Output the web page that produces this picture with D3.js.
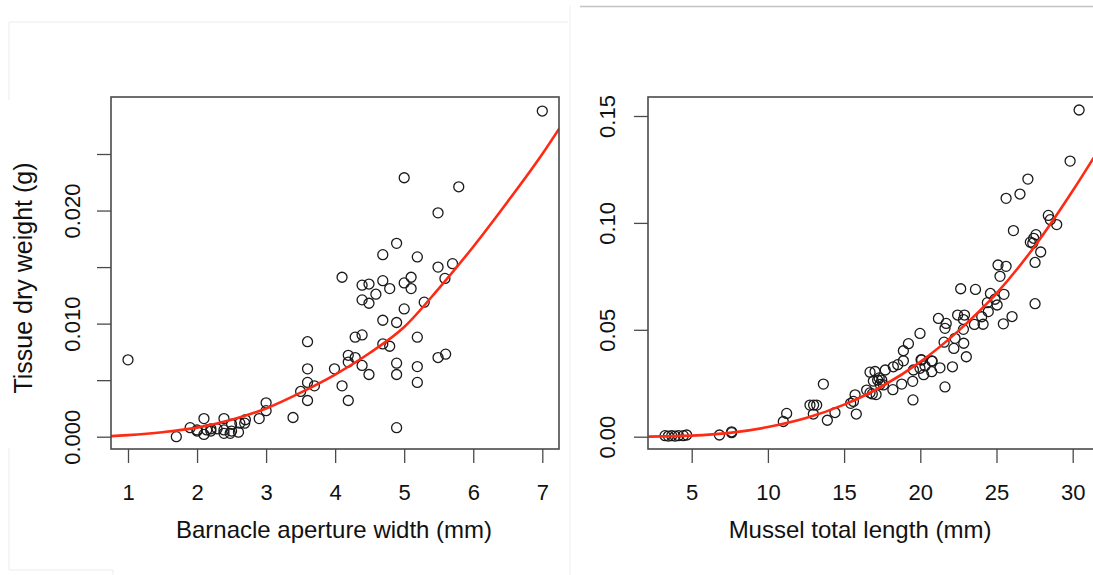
<!DOCTYPE html>
<html><head><meta charset="utf-8">
<script src="https://cdn.jsdelivr.net/npm/d3@7"></script>
<style>body{margin:0;background:#fff}svg{display:block}text{font-family:"Liberation Sans",Arial,Helvetica,sans-serif;fill:#111}</style>
</head><body><svg id="c" width="1093" height="575"></svg>
<script>
// ---- data ----
const barnacleXTicks = [1,2,3,4,5,6,7];
const barnacleYTicks = [0,0.005,0.010,0.015,0.020,0.025];
const barnacleYLabels = ["0.000","","0.010","","0.020",""];
const barnacleWidth = [7.00,5.00,5.79,5.49,4.89,4.69,5.19,5.49,5.70,5.59,4.10,5.10,5.00,5.10,4.69,4.79,4.39,4.49,4.59,4.39,4.49,5.29,5.00,4.69,4.89,5.19,4.29,4.39,4.69,4.79,3.60,4.19,4.29,4.19,4.39,5.49,5.60,4.89,5.19,3.99,3.60,4.49,4.89,5.19,3.60,3.70,4.10,3.50,3.60,4.19,3.39,3.00,3.00,2.90,2.70,2.69,1.00,4.89,1.70,1.90,2.10,2.00,2.10,2.20,2.20,2.29,2.39,2.39,2.39,2.50,2.50,2.60,2.00,2.14,2.48,2.62];
const barnacleWeight = [0.0288,0.0229,0.0221,0.0198,0.0171,0.0161,0.0159,0.0150,0.0153,0.0140,0.0141,0.0141,0.0136,0.0131,0.0138,0.0131,0.0134,0.0135,0.0126,0.0121,0.0118,0.0119,0.0113,0.0103,0.0101,0.0088,0.0088,0.0090,0.0082,0.0080,0.0084,0.0072,0.0070,0.0066,0.0063,0.0070,0.0073,0.0065,0.0062,0.0060,0.0060,0.0055,0.0055,0.0048,0.0048,0.0045,0.0045,0.0040,0.0032,0.0032,0.0017,0.0030,0.0023,0.0016,0.0015,0.0012,0.0068,0.0008,0.0000,0.0008,0.0016,0.0005,0.0002,0.0007,0.0005,0.0007,0.0016,0.0006,0.0003,0.0011,0.0005,0.0004,0.0006,0.0006,0.0003,0.0012];
const barnacleFitX = [0.754,1,1.5,2,2.5,3,3.5,4,4.5,5,5.5,6,6.5,7,7.25];
const barnacleFitY = [0.00005,0.00014,0.0004,0.0008,0.0015,0.0025,0.0039,0.0055,0.0074,0.0097,0.0131,0.0168,0.0208,0.0250,0.0273];

const musselXTicks = [5,10,15,20,25,30];
const musselYTicks = [0,0.05,0.10,0.15];
const musselYLabels = ["0.00","0.05","0.10","0.15"];
const musselLength = [30.42,29.83,27.06,26.54,25.63,26.11,28.40,28.53,28.95,27.59,27.44,27.22,27.38,27.90,27.53,27.53,25.10,25.63,25.23,22.65,23.62,24.60,25.49,24.90,24.40,25.04,25.45,26.02,21.19,22.45,22.90,22.83,21.70,21.62,23.55,24.12,22.83,24.46,24.03,21.56,22.28,22.85,22.20,23.02,19.98,19.22,18.89,18.89,18.52,20.78,20.05,20.31,21.29,22.11,19.55,20.22,20.75,21.62,19.50,18.78,19.52,17.70,16.70,17.03,17.30,16.92,17.20,17.36,17.58,16.48,16.85,17.10,16.70,18.20,18.23,17.47,15.72,15.61,15.80,15.43,13.64,12.76,13.20,13.00,12.98,14.40,13.90,11.23,11.01,7.62,7.62,6.82,3.25,3.47,3.69,3.91,4.13,4.45,4.67,20.09,19.98,20.75];
const musselWeight = [0.1528,0.1289,0.1205,0.1135,0.1115,0.0964,0.1035,0.1015,0.0992,0.0945,0.0928,0.0910,0.0905,0.0864,0.0815,0.0622,0.0803,0.0797,0.0750,0.0692,0.0689,0.0670,0.0666,0.0643,0.0627,0.0616,0.0528,0.0562,0.0553,0.0569,0.0569,0.0548,0.0530,0.0507,0.0525,0.0526,0.0502,0.0585,0.0561,0.0442,0.0460,0.0437,0.0413,0.0374,0.0483,0.0435,0.0402,0.0355,0.0337,0.0353,0.0360,0.0331,0.0322,0.0327,0.0312,0.0290,0.0304,0.0233,0.0259,0.0246,0.0172,0.0312,0.0302,0.0305,0.0275,0.0260,0.0265,0.0245,0.0242,0.0218,0.0200,0.0197,0.0205,0.0220,0.0327,0.0265,0.0196,0.0165,0.0106,0.0156,0.0246,0.0148,0.0148,0.0148,0.0106,0.0113,0.0077,0.0109,0.0071,0.0023,0.0019,0.0008,0.0005,0.0003,0.0005,0.0003,0.0005,0.0005,0.0008,0.0359,0.0320,0.0355];
const musselFitX = [2.15,5,7.5,10,12.5,15,17.5,20,22.5,25,27.5,30,31.6];
const musselFitY = [0.00004,0.0005,0.0018,0.0045,0.0087,0.0150,0.0236,0.0350,0.0495,0.0670,0.0890,0.1150,0.1330];

const xTitleLeft = "Barnacle aperture width (mm)";
const xTitleRight = "Mussel total length (mm)";
const yTitle = "Tissue dry weight (g)";

// ---- drawing ----
const svg = d3.select("#c");
// faint screenshot frame lines
const frame = svg.append("g").attr("fill","none");
frame.append("path").attr("d","M9,100V22H568").attr("stroke","#ececec");
frame.append("path").attr("d","M9,448V570H113V575").attr("stroke","#ececec");
frame.append("path").attr("d","M570,6V575").attr("stroke","#efefef");
frame.append("path").attr("d","M580,6.5H1093").attr("stroke","#c4c4c4").attr("stroke-width",1.5);

function panel(cfg){
  const g = svg.append("g");
  const x = d3.scaleLinear().domain(cfg.xDom).range(cfg.xRange);
  const y = d3.scaleLinear().domain(cfg.yDom).range(cfg.yRange);
  const id = "clip"+cfg.id;
  svg.append("clipPath").attr("id",id).append("rect")
    .attr("x",cfg.box[0]).attr("y",cfg.box[1]).attr("width",cfg.box[2]-cfg.box[0]).attr("height",cfg.box[3]-cfg.box[1]);
  // points
  g.append("g").selectAll("circle").data(cfg.xs.map((d,i)=>[d,cfg.ys[i]])).join("circle")
    .attr("cx",d=>x(d[0])).attr("cy",d=>y(d[1])).attr("r",5)
    .attr("fill","none").attr("stroke","#1a1a1a").attr("stroke-width",1.3);
  // fitted curve
  g.append("path").attr("clip-path",`url(#${id})`)
    .datum(cfg.fx.map((d,i)=>[d,cfg.fy[i]]))
    .attr("d",d3.line().x(d=>x(d[0])).y(d=>y(d[1])).curve(d3.curveMonotoneX))
    .attr("fill","none").attr("stroke","#ff2a14").attr("stroke-width",2.6);
  // box
  g.append("rect").attr("x",cfg.box[0]).attr("y",cfg.box[1])
    .attr("width",cfg.box[2]-cfg.box[0]).attr("height",cfg.box[3]-cfg.box[1])
    .attr("fill","none").attr("stroke","#4a4a4a").attr("stroke-width",1.6);
  // x axis
  const xa = d3.axisBottom(x).tickValues(cfg.xTicks).tickSize(14).tickPadding(12).tickFormat(d3.format("d"));
  const gx = g.append("g").attr("transform",`translate(0,${cfg.box[3]})`).call(xa);
  gx.select(".domain").remove();
  gx.selectAll(".tick line").attr("stroke","#4a4a4a").attr("stroke-width",1.3);
  gx.selectAll(".tick text").attr("font-size",22).attr("fill","#111").attr("dy",null).attr("y",null)
    .attr("transform",null).attr("dominant-baseline",null);
  gx.selectAll(".tick text").attr("y",51);
  // y axis
  const ya = d3.axisLeft(y).tickValues(cfg.yTicks).tickSize(14).tickFormat((d,i)=>cfg.yLabels[i]);
  const gy = g.append("g").attr("transform",`translate(${cfg.box[0]},0)`).call(ya);
  gy.select(".domain").remove();
  gy.selectAll(".tick line").attr("stroke","#4a4a4a").attr("stroke-width",1.3);
  gy.selectAll(".tick text").attr("font-size",22).attr("fill","#111")
    .attr("x",null).attr("dy",null).attr("text-anchor","middle")
    .attr("transform",`translate(${cfg.yLabX - cfg.box[0]},0) rotate(-90)`);
  // x title
  g.append("text").attr("x",cfg.xTitleX).attr("y",538).attr("text-anchor","middle")
    .attr("font-size",24).text(cfg.xTitle);
}

panel({id:"L", xDom:[1,7], xRange:[128,542.3], yDom:[0,0.025], yRange:[436.7,154],
  box:[111,97,559,449], xs:barnacleWidth, ys:barnacleWeight, fx:barnacleFitX, fy:barnacleFitY,
  xTicks:barnacleXTicks, yTicks:barnacleYTicks, yLabels:barnacleYLabels, yLabX:80,
  xTitle:xTitleLeft, xTitleX:334});
panel({id:"R", xDom:[5,30], xRange:[691.7,1072.7], yDom:[0,0.15], yRange:[436.7,116],
  box:[648,97,1110,449], xs:musselLength, ys:musselWeight, fx:musselFitX, fy:musselFitY,
  xTicks:musselXTicks, yTicks:musselYTicks, yLabels:musselYLabels, yLabX:615,
  xTitle:xTitleRight, xTitleX:860});

svg.append("text").attr("transform","translate(32,278) rotate(-90)").attr("text-anchor","middle")
  .attr("font-size",25).text(yTitle);
</script></body></html>
